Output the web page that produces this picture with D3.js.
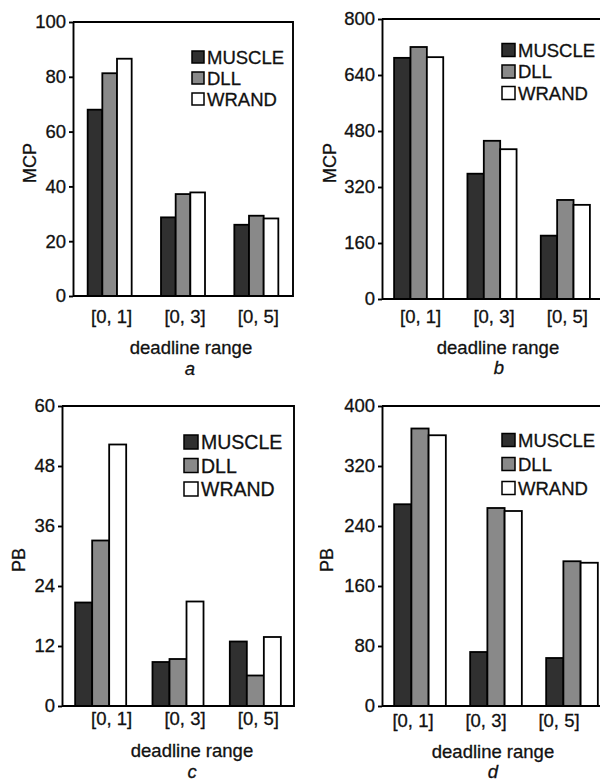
<!DOCTYPE html>
<html>
<head>
<meta charset="utf-8">
<script src="https://cdn.jsdelivr.net/npm/d3@7"></script>
<style>
  body { margin: 0; background: #fff; }
  svg { display: block; font-family: "Liberation Sans", Arial, sans-serif; }
  svg text { fill: #111; stroke: #111; stroke-width: 0.3px; }
</style>
</head>
<body>
<div id="chart"></div>
<script>
// data
const categories = ["[0, 1]", "[0, 3]", "[0, 5]"];
const seriesNames = ["MUSCLE", "DLL", "WRAND"];
const seriesColors = ["#303030", "#898989", "#ffffff"];

// panel a : MCP
const aMuscle = [68, 28.7, 26];
const aDll = [81.3, 37.2, 29.3];
const aWrand = [86.6, 37.8, 28.3];
const aTicks = [0, 20, 40, 60, 80, 100];

// panel b : MCP
const bMuscle = [689, 358, 181];
const bDll = [720, 452, 283];
const bWrand = [691, 428, 269];
const bTicks = [0, 160, 320, 480, 640, 800];

// panel c : PB
const cMuscle = [20.7, 8.8, 12.9];
const cDll = [33.1, 9.4, 6.1];
const cWrand = [52.3, 20.9, 13.8];
const cTicks = [0, 12, 24, 36, 48, 60];

// panel d : PB
const dMuscle = [269, 72, 64];
const dDll = [370, 264, 193];
const dWrand = [361, 260, 191];
const dTicks = [0, 80, 160, 240, 320, 400];

const width = 600;
const height = 784;

const svg = d3.select("#chart")
  .append("svg")
    .attr("width", width)
    .attr("height", height);

const panels = [
  {letter: "a", yLabel: "MCP", values: [aMuscle, aDll, aWrand], ticks: aTicks,
   left: 73, right: 293, top: 22, bottom: 296, pad: 0.4, labelRange: [75, 295],
   yLabelX: 30, legend: {x: 192, y: 57, size: 12, gap: 21, font: 18.5},
   tickY: 323, titleY: 354, titleX: 191, letterY: 375, letterX: 190},
  {letter: "b", yLabel: "MCP", values: [bMuscle, bDll, bWrand], ticks: bTicks,
   left: 382, right: 602, top: 19, bottom: 299, pad: 0.33, labelRange: [384, 604],
   yLabelX: 330, legend: {x: 502, y: 50, size: 13, gap: 21.5, font: 18.5},
   tickY: 323, titleY: 354, titleX: 498, letterY: 374, letterX: 499},
  {letter: "c", yLabel: "PB", values: [cMuscle, cDll, cWrand], ticks: cTicks,
   left: 62, right: 294, top: 406, bottom: 706, pad: 0.34, labelRange: [75, 295],
   yLabelX: 19, legend: {x: 184, y: 442, size: 14, gap: 23.5, font: 19.5},
   tickY: 725, titleY: 757, titleX: 192, letterY: 778, letterX: 192},
  {letter: "d", yLabel: "PB", values: [dMuscle, dDll, dWrand], ticks: dTicks,
   left: 382, right: 610, top: 406, bottom: 706, pad: 0.32, labelRange: [376.5, 595.5],
   yLabelX: 327, legend: {x: 502, y: 440, size: 13, gap: 24, font: 18.5},
   tickY: 727, titleY: 758, titleX: 493, letterY: 778, letterX: 493}
];

const drawPanel = (p) => {
  const g = svg.append("g");

  const xScale = d3.scaleBand()
    .domain(categories)
    .range([p.left, p.right])
    .paddingInner(p.pad)
    .paddingOuter(p.pad / 2);

  const xSub = d3.scaleBand()
    .domain(seriesNames)
    .range([0, xScale.bandwidth()]);

  const labelScale = d3.scaleBand()
    .domain(categories)
    .range(p.labelRange);

  const yScale = d3.scaleLinear()
    .domain([0, d3.max(p.ticks)])
    .range([p.bottom, p.top]);

  // bars
  seriesNames.forEach((name, si) => {
    g.append("g")
      .selectAll("rect")
      .data(p.values[si])
      .join("rect")
        .attr("x", (d, i) => xScale(categories[i]) + xSub(name))
        .attr("y", d => yScale(d))
        .attr("width", xSub.bandwidth())
        .attr("height", d => yScale(0) - yScale(d))
        .attr("fill", seriesColors[si])
        .attr("stroke", "#000")
        .attr("stroke-width", 1.8);
  });

  // frame: top, right, bottom
  g.append("path")
    .attr("d", `M${p.left},${p.top}H${p.right}V${p.bottom}H${p.left}`)
    .attr("fill", "none")
    .attr("stroke", "#000")
    .attr("stroke-width", 1.9);

  const leftAxis = d3.axisLeft(yScale)
    .tickValues(p.ticks)
    .tickSize(4)
    .tickSizeOuter(0)
    .tickPadding(3);

  g.append("g")
    .attr("class", "axis-y")
    .attr("transform", `translate(${p.left}, 0)`)
    .call(leftAxis)
    .call(ax => ax.selectAll("path, line").attr("stroke", "#000").attr("stroke-width", 1.9))
    .call(ax => ax.selectAll("text")
      .attr("fill", "#111")
      .style("font-size", "18.5px")
      .style("font-family", "'Liberation Sans', Arial, sans-serif"));

  // category labels
  g.append("g")
    .selectAll("text")
    .data(categories)
    .join("text")
      .text(d => d)
      .attr("x", d => labelScale(d) + labelScale.bandwidth() / 2)
      .attr("y", p.tickY)
      .attr("text-anchor", "middle")
      .style("font-size", "18.5px");

  g.append("text")
    .text("deadline range")
    .attr("x", p.titleX)
    .attr("y", p.titleY)
    .attr("text-anchor", "middle")
    .style("font-size", "18.5px");

  g.append("text")
    .text(p.letter)
    .attr("x", p.letterX)
    .attr("y", p.letterY)
    .attr("text-anchor", "middle")
    .style("font-style", "italic")
    .style("font-size", "18.5px");

  g.append("text")
    .text(p.yLabel)
    .attr("transform", `translate(${p.yLabelX}, ${(p.top + p.bottom) / 2 + 4}) rotate(-90)`)
    .attr("text-anchor", "middle")
    .attr("dominant-baseline", "central")
    .style("font-size", "18px");

  // legend
  const lg = g.append("g");
  seriesNames.forEach((name, si) => {
    const cy = p.legend.y + si * p.legend.gap;
    lg.append("rect")
      .attr("x", p.legend.x)
      .attr("y", cy - p.legend.size / 2)
      .attr("width", p.legend.size)
      .attr("height", p.legend.size)
      .attr("fill", seriesColors[si])
      .attr("stroke", "#000")
      .attr("stroke-width", 1.5);
    lg.append("text")
      .text(name)
      .attr("x", p.legend.x + p.legend.size + 3)
      .attr("y", cy)
      .attr("dominant-baseline", "central")
      .style("font-size", `${p.legend.font}px`);
  });
};

panels.forEach(drawPanel);
</script>
</body>
</html>
